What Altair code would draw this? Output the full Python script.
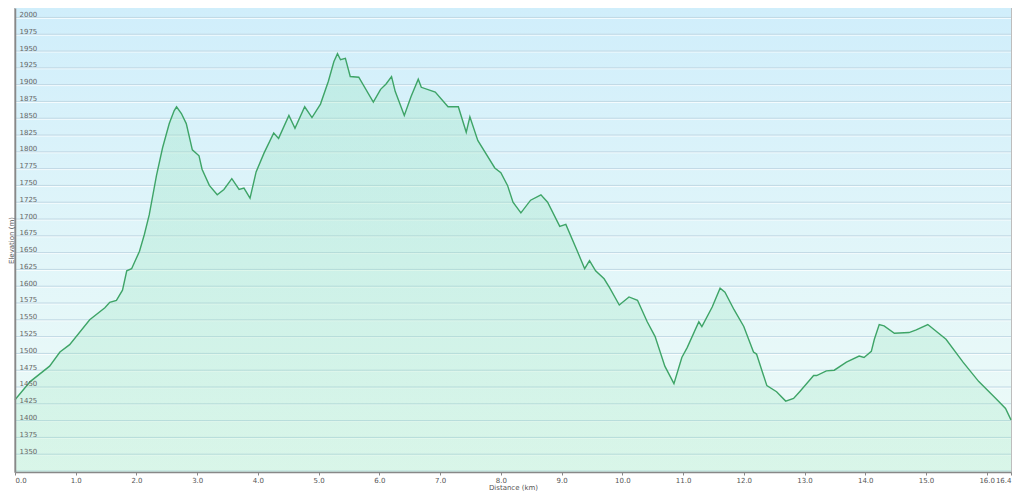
import altair as alt
import pandas as pd

distance_km = [0.00, 0.25, 0.57, 0.74, 0.90, 1.23, 1.48, 1.56, 1.67, 1.77, 1.84, 1.92,
               2.05, 2.13, 2.21, 2.33, 2.43, 2.54, 2.62, 2.66, 2.74, 2.82, 2.92, 3.03,
               3.08, 3.20, 3.33, 3.44, 3.57, 3.69, 3.77, 3.87, 3.97, 4.10, 4.26, 4.34,
               4.51, 4.61, 4.77, 4.89, 5.03, 5.16, 5.25, 5.31, 5.36, 5.44, 5.52, 5.66,
               5.90, 6.02, 6.11, 6.20, 6.26, 6.41, 6.52, 6.64, 6.69, 6.92, 7.13, 7.30,
               7.43, 7.49, 7.62, 7.90, 8.00, 8.11, 8.20, 8.33, 8.49, 8.66, 8.77, 8.97,
               9.07, 9.26, 9.38, 9.46, 9.56, 9.70, 9.79, 9.95, 10.11, 10.25, 10.41, 10.54,
               10.70, 10.85, 10.98, 11.07, 11.26, 11.31, 11.48, 11.61, 11.69, 11.84, 12.00,
               12.16, 12.21, 12.38, 12.54, 12.69, 12.82, 12.92, 13.15, 13.20, 13.36, 13.49,
               13.69, 13.90, 13.98, 14.10, 14.15, 14.23, 14.31, 14.48, 14.72, 14.84, 15.03,
               15.33, 15.61, 15.87, 16.15, 16.31, 16.40]
elevation_m = [1431, 1458, 1481, 1502, 1513, 1550, 1568, 1576, 1579, 1594, 1623, 1626,
               1652, 1677, 1706, 1765, 1806, 1842, 1861, 1867, 1857, 1842, 1803, 1794,
               1774, 1750, 1736, 1744, 1760, 1744, 1746, 1731, 1770, 1798, 1828, 1820,
               1854, 1835, 1867, 1851, 1871, 1905, 1934, 1946, 1937, 1939, 1912, 1911,
               1874, 1893, 1901, 1912, 1890, 1854, 1882, 1908, 1896, 1889, 1867, 1867,
               1829, 1852, 1817, 1776, 1769, 1750, 1725, 1709, 1728, 1736, 1725, 1689,
               1692, 1652, 1626, 1638, 1623, 1611, 1598, 1572, 1584, 1579, 1547, 1525,
               1481, 1455, 1494, 1509, 1547, 1540, 1569, 1597, 1591, 1565, 1540,
               1502, 1499, 1452, 1443, 1429, 1433, 1443, 1467, 1467, 1474, 1475,
               1487, 1496, 1494, 1503, 1521, 1543, 1541, 1530, 1531, 1535, 1543,
               1521, 1487, 1458, 1433, 1418, 1401]

x_ticks = [0.0, 1.0, 2.0, 3.0, 4.0, 5.0, 6.0, 7.0, 8.0, 9.0, 10.0, 11.0, 12.0,
           13.0, 14.0, 15.0, 16.0, 16.4]
y_ticks = [1350, 1375, 1400, 1425, 1450, 1475, 1500, 1525, 1550, 1575, 1600, 1625,
           1650, 1675, 1700, 1725, 1750, 1775, 1800, 1825, 1850, 1875, 1900, 1925,
           1950, 1975, 2000]
grid_values = [1325] + y_ticks

W, H = 996, 464

profile = pd.DataFrame({"dist": distance_km, "elev": elevation_m})
grid = pd.DataFrame({"elev": grid_values})
one = pd.DataFrame({"a": [0]})

x_scale = alt.Scale(domain=[0, 16.4], nice=False, zero=False)
y_scale = alt.Scale(domain=[1323.5, 2014], nice=False, zero=False)

x_axis = alt.Axis(values=x_ticks, format=".1f", title="Distance  (km)",
                  labelFontSize=7, labelColor="#555", labelFont="DejaVu Sans",
                  tickSize=3, tickColor="#888", domainColor="#888", domainWidth=1.5,
                  labelPadding=1, grid=False, titleFontSize=7, titleFont="DejaVu Sans",
                  titleFontWeight="normal", titleColor="#555", titlePadding=0,
                  labelFlush=True, zindex=1)
y_axis = alt.Axis(values=y_ticks, format="d", title="Elevation (m)",
                  labelAlign="left", labelBaseline="bottom", labelPadding=-4,
                  ticks=False, labelFontSize=7, labelColor="#666",
                  labelFont="DejaVu Sans", domainColor="#888", domainWidth=1.5,
                  grid=False, titleFontSize=7, titleFont="DejaVu Sans",
                  titleFontWeight="normal", titleColor="#555",
                  titleX=-4, titleY=232, titleBaseline="middle", zindex=1)

bg = alt.Chart(one).mark_rect(
    clip=True,
    fill=alt.Gradient(
        gradient="linear",
        stops=[alt.GradientStop(color="#d0eefb", offset=0),
               alt.GradientStop(color="#e2f6f9", offset=0.55),
               alt.GradientStop(color="#eefbf7", offset=1)],
        x1=0, x2=0, y1=0, y2=1,
    )
).encode(x=alt.value(0), x2=alt.value(W), y=alt.value(0), y2=alt.value(H))

grid_light = alt.Chart(grid).mark_rule(color="#ffffff", strokeWidth=1, opacity=0.8, yOffset=1).encode(
    y=alt.Y("elev:Q", scale=y_scale, axis=y_axis)
)
grid_dark = alt.Chart(grid).mark_rule(color="#c0d8e4", strokeWidth=1).encode(
    y=alt.Y("elev:Q", scale=y_scale, axis=y_axis)
)

area = alt.Chart(profile).mark_area(
    clip=True,
    fill=alt.Gradient(
        gradient="linear",
        stops=[alt.GradientStop(color="rgba(140,225,180,0.28)", offset=0),
               alt.GradientStop(color="rgba(170,235,200,0.15)", offset=1)],
        x1=0, x2=0, y1=0, y2=1,
    )
).encode(
    x=alt.X("dist:Q", scale=x_scale, axis=x_axis),
    y=alt.Y("elev:Q", scale=y_scale, axis=y_axis),
    y2=alt.value(H),
)

line = alt.Chart(profile).mark_line(color="#3ea467", strokeWidth=1.4).encode(
    x=alt.X("dist:Q", scale=x_scale, axis=x_axis),
    y=alt.Y("elev:Q", scale=y_scale, axis=y_axis),
)

chart = alt.layer(bg, grid_light, grid_dark, area, line).properties(
    width=W, height=H,
    autosize=alt.AutoSizeParams(type="none"),
    padding={"left": 7, "top": 0, "right": 4, "bottom": 19},
    background="white",
).configure_view(stroke="#a8a8a8", strokeWidth=1.5)

chart.save("out.html", embed_options={"renderer": "svg", "actions": False})
